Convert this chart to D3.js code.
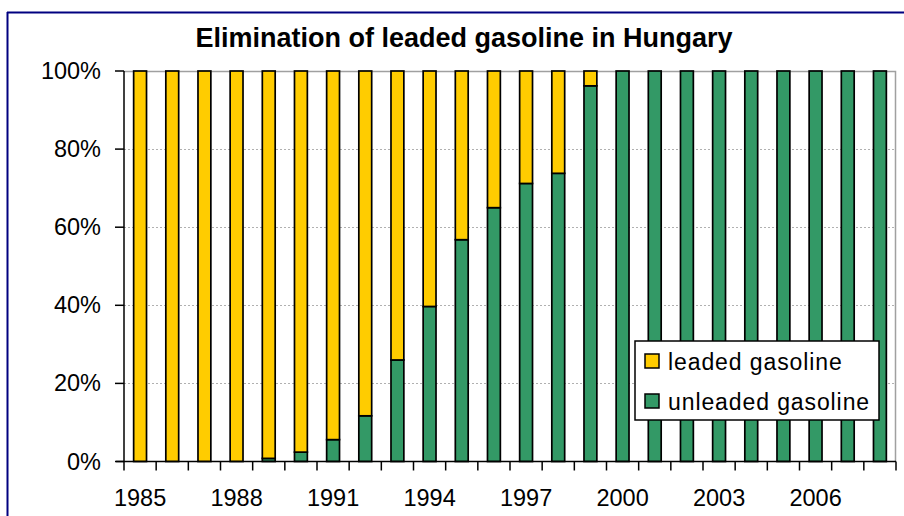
<!DOCTYPE html>
<html>
<head>
<meta charset="utf-8">
<script src="https://cdn.jsdelivr.net/npm/d3@7"></script>
<style>
  body { margin: 0; background: #fff; }
  svg text { font-family: "Liberation Sans", Arial, sans-serif; fill: #000; }
</style>
</head>
<body>
<div id="chart"></div>
<script>
const years = d3.range(1985, 2009);
const unleaded = [0, 0, 0, 0, 0.8, 2.4, 5.6, 11.7, 26, 39.7, 56.8, 65, 71.2, 73.8, 96.2,
  100, 100, 100, 100, 100, 100, 100, 100, 100];
const leaded = [100, 100, 100, 100, 99.2, 97.6, 94.4, 88.3, 74, 60.3, 43.2, 35, 28.8, 26.2, 3.8,
  0, 0, 0, 0, 0, 0, 0, 0, 0];
const yTicks = [0, 20, 40, 60, 80, 100];
const xLabels = [1985, 1988, 1991, 1994, 1997, 2000, 2003, 2006];
const seriesNames = ["leaded gasoline", "unleaded gasoline"];

const W = 904, H = 516;
const margin = { top: 71, right: 8, bottom: 54.5, left: 124 };
const width = W - margin.left - margin.right,
  height = H - margin.top - margin.bottom;

const colors = { unleaded: "#339966", leaded: "#FFCC00" };

const svg = d3.select("#chart")
  .append("svg")
  .attr("width", W)
  .attr("height", H);

// outer frame (blue, top and left)
svg.append("line").attr("x1", 7).attr("x2", W).attr("y1", 12.5).attr("y2", 12.5)
  .attr("stroke", "#000080").attr("stroke-width", 2);
svg.append("line").attr("x1", 7.5).attr("x2", 7.5).attr("y1", 12).attr("y2", H)
  .attr("stroke", "#000080").attr("stroke-width", 2);

svg.append("text")
  .attr("x", 464)
  .attr("y", 47)
  .attr("text-anchor", "middle")
  .style("font-size", "27px")
  .style("font-weight", "bold")
  .text("Elimination of leaded gasoline in Hungary");

const g = svg.append("g")
  .attr("transform", `translate(${margin.left},${margin.top})`);

const x = d3.scaleBand()
  .domain(years)
  .range([0, width])
  .paddingInner(0.6)
  .paddingOuter(0.3);

const y = d3.scaleLinear()
  .domain([0, 100])
  .range([height, 0]);

// gridlines
g.append("g")
  .selectAll("line")
  .data(yTicks.filter(d => d > 0 && d < 100))
  .join("line")
  .attr("x1", 0)
  .attr("x2", width)
  .attr("y1", d => Math.round(y(d)) + 0.5)
  .attr("y2", d => Math.round(y(d)) + 0.5)
  .attr("stroke", "#b0b0b0")
  .attr("stroke-dasharray", "2,2");

// plot border top and right
g.append("path")
  .attr("d", `M0,0.5H${width - 0.5}V${height}`)
  .attr("fill", "none")
  .attr("stroke", "#a0a0a0")
  .attr("stroke-width", 1.5);

// stacked bars
const table = years.map((yr, i) => ({ year: yr, unleaded: unleaded[i], leaded: leaded[i] }));
const stack = d3.stack().keys(["unleaded", "leaded"])(table);

g.append("g")
  .selectAll("g")
  .data(stack)
  .join("g")
  .attr("fill", d => colors[d.key])
  .selectAll("rect")
  .data(d => d.filter(p => p[1] - p[0] > 0))
  .join("rect")
  .attr("x", d => x(d.data.year))
  .attr("width", x.bandwidth())
  .attr("y", d => y(d[1]))
  .attr("height", d => y(d[0]) - y(d[1]))
  .attr("stroke", "#000")
  .attr("stroke-width", 1.7);

// x axis with ticks between categories
const xAxis = g.append("g")
  .attr("transform", `translate(0,${height})`);
xAxis.append("line")
  .attr("x1", -8).attr("x2", width)
  .attr("stroke", "#000").attr("stroke-width", 1.5);
const x0 = x(years[0]) - x.paddingOuter() * x.step();
xAxis.selectAll(".tk")
  .data(d3.range(years.length + 1))
  .join("line")
  .attr("class", "tk")
  .attr("x1", i => x0 + i * (width / years.length))
  .attr("x2", i => x0 + i * (width / years.length))
  .attr("y1", 0)
  .attr("y2", 9)
  .attr("stroke", "#000")
  .attr("stroke-width", 1.5);
xAxis.selectAll(".lbl")
  .data(xLabels)
  .join("text")
  .attr("class", "lbl")
  .attr("x", d => x(d) + x.bandwidth() / 2)
  .attr("y", 44)
  .attr("text-anchor", "middle")
  .style("font-size", "23.5px")
  .text(d => d);

// y axis
const yAxis = g.append("g");
yAxis.append("line")
  .attr("y1", 0).attr("y2", height)
  .attr("stroke", "#000").attr("stroke-width", 1.5);
yAxis.selectAll(".tk")
  .data(yTicks)
  .join("line")
  .attr("class", "tk")
  .attr("x1", -9).attr("x2", 0)
  .attr("y1", d => y(d)).attr("y2", d => y(d))
  .attr("stroke", "#000").attr("stroke-width", 1.5);
yAxis.selectAll(".lbl")
  .data(yTicks)
  .join("text")
  .attr("class", "lbl")
  .attr("x", -23)
  .attr("y", d => y(d) + 8)
  .attr("text-anchor", "end")
  .style("font-size", "23.5px")
  .text(d => d + "%");

// legend
const legend = svg.append("g").attr("transform", "translate(635,341)");
legend.append("rect")
  .attr("width", 244).attr("height", 79)
  .attr("fill", "#fff").attr("stroke", "#000").attr("stroke-width", 1.5);
const legItems = legend.selectAll(".item")
  .data(seriesNames)
  .join("g")
  .attr("class", "item")
  .attr("transform", (d, i) => `translate(10,${13 + i * 40})`);
legItems.append("rect")
  .attr("width", 14).attr("height", 14)
  .attr("fill", (d, i) => i === 0 ? colors.leaded : colors.unleaded)
  .attr("stroke", "#000").attr("stroke-width", 1.5);
legItems.append("text")
  .attr("x", 23)
  .attr("y", 16)
  .style("font-size", "23px")
  .style("letter-spacing", "0.9px")
  .text(d => d);
</script>
</body>
</html>
